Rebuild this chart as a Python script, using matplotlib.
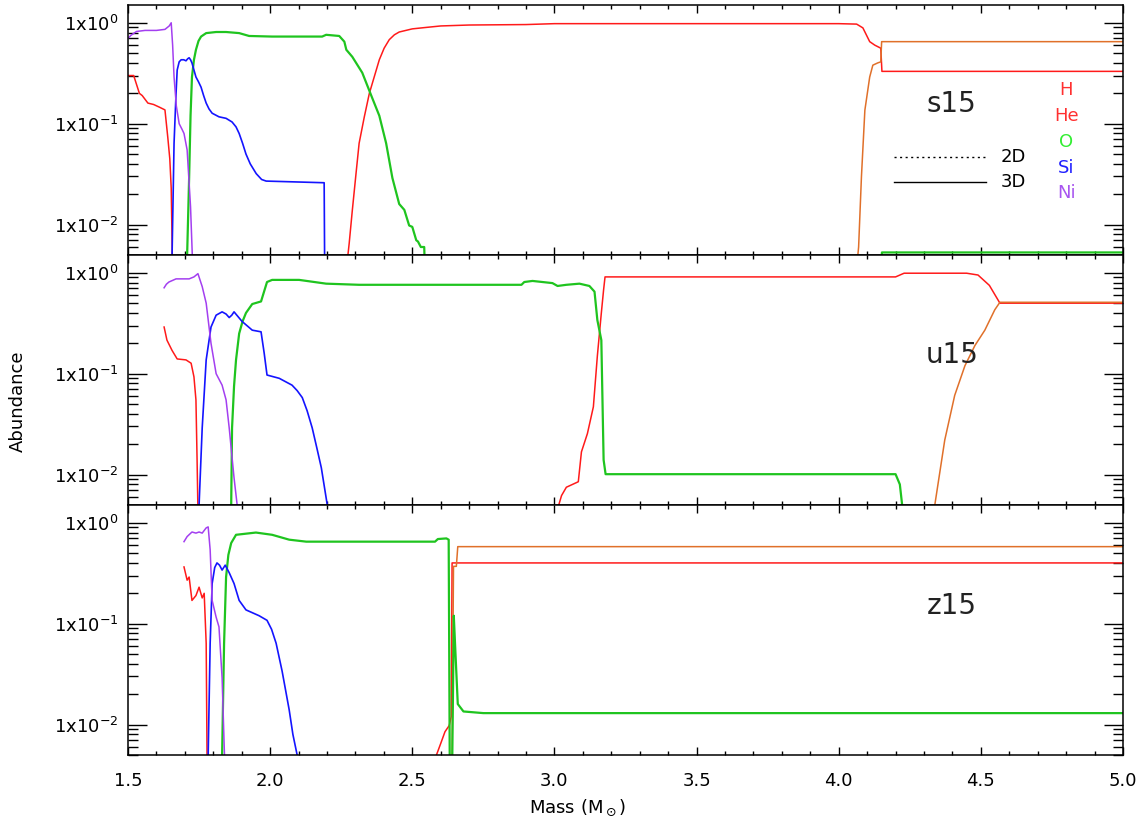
import matplotlib
matplotlib.use("Agg")
import matplotlib.pyplot as plt
from matplotlib.ticker import LogLocator, MultipleLocator, FuncFormatter, NullFormatter
import numpy as np

# ---------------- data ----------------
# Panel s15
s15_H_x = [1.5, 1.52, 1.54, 1.55, 1.57, 1.59, 1.61, 1.63, 1.64, 1.647, 1.652, 1.655, 1.657,
           2.265, 2.278, 2.289, 2.303, 2.313, 2.331, 2.349, 2.366, 2.384, 2.401, 2.419, 2.437,
           2.454, 2.5, 2.55, 2.6, 2.7, 2.9, 3.0,
           4.0, 4.063, 4.085, 4.109, 4.127, 4.148, 4.152, 5.0]
s15_H_y = [0.30, 0.30, 0.20, 0.19, 0.16, 0.155, 0.146, 0.137, 0.073, 0.045, 0.023, 0.007, 0.003,
           0.003, 0.0065, 0.0138, 0.034, 0.064, 0.116, 0.20, 0.29, 0.43, 0.56, 0.68, 0.76,
           0.81, 0.87, 0.90, 0.93, 0.95, 0.96, 0.98,
           0.98, 0.97, 0.89, 0.65, 0.60, 0.56, 0.33, 0.33]
s15_He_x = [4.06, 4.07, 4.08, 4.092, 4.109, 4.12, 4.137, 4.148, 4.151, 5.0]
s15_He_y = [0.003, 0.006, 0.03, 0.136, 0.29, 0.38, 0.40, 0.41, 0.65, 0.65]
s15_O_x = [1.705, 1.708, 1.715, 1.720, 1.725, 1.732, 1.739, 1.748, 1.757, 1.775, 1.81, 1.845,
           1.891, 1.926, 2.007, 2.183, 2.197, 2.243, 2.261, 2.268, 2.289, 2.324, 2.359, 2.384,
           2.408, 2.43, 2.454, 2.472, 2.489, 2.50, 2.514, 2.52, 2.53, 2.542, 2.545,
           4.148, 4.152, 5.0]
s15_O_y = [0.003, 0.005, 0.029, 0.12, 0.29, 0.43, 0.54, 0.66, 0.73, 0.79, 0.81, 0.81,
           0.79, 0.74, 0.73, 0.73, 0.76, 0.74, 0.65, 0.54, 0.46, 0.32, 0.18, 0.12,
           0.064, 0.029, 0.016, 0.014, 0.0098, 0.0095, 0.007, 0.0068, 0.006, 0.006, 0.003,
           0.003, 0.0053, 0.0053]
s15_Si_x = [1.654, 1.655, 1.662, 1.669, 1.673, 1.680, 1.687, 1.696, 1.704, 1.710, 1.715, 1.720,
            1.725, 1.732, 1.739, 1.748, 1.757, 1.766, 1.775, 1.785, 1.796, 1.82, 1.845, 1.866,
            1.880, 1.891, 1.903, 1.915, 1.930, 1.951, 1.970, 1.986, 2.067, 2.19, 2.192]
s15_Si_y = [0.003, 0.005, 0.064, 0.20, 0.34, 0.41, 0.43, 0.43, 0.42, 0.44, 0.45, 0.43,
            0.40, 0.34, 0.29, 0.26, 0.23, 0.19, 0.16, 0.14, 0.127, 0.117, 0.113, 0.104,
            0.093, 0.080, 0.064, 0.050, 0.040, 0.032, 0.028, 0.027, 0.0266, 0.026, 0.003]
s15_Ni_x = [1.5, 1.51, 1.53, 1.56, 1.6, 1.63, 1.645, 1.652, 1.657, 1.662, 1.670, 1.68, 1.690,
            1.697, 1.708, 1.72, 1.729]
s15_Ni_y = [0.70, 0.75, 0.82, 0.84, 0.84, 0.86, 0.93, 1.0, 0.60, 0.29, 0.15, 0.10, 0.088,
            0.08, 0.055, 0.015, 0.003]

# Panel u15
u15_H_x = [1.627, 1.637, 1.655, 1.673, 1.704, 1.722, 1.732, 1.739, 1.743, 1.747,
           3.005, 3.025, 3.042, 3.084, 3.095, 3.116, 3.137, 3.151, 3.165, 3.173, 3.178,
           4.20, 4.23, 4.45, 4.49, 4.53, 4.567, 5.0]
u15_H_y = [0.29, 0.215, 0.17, 0.14, 0.137, 0.127, 0.093, 0.055, 0.014, 0.003,
           0.004, 0.0062, 0.0075, 0.0085, 0.0168, 0.0255, 0.047, 0.15, 0.40, 0.68, 0.91,
           0.91, 0.99, 0.99, 0.95, 0.75, 0.50, 0.50]
u15_He_x = [4.33, 4.338, 4.373, 4.408, 4.444, 4.479, 4.514, 4.549, 4.567, 5.0]
u15_He_y = [0.003, 0.005, 0.022, 0.061, 0.12, 0.19, 0.27, 0.43, 0.51, 0.51]
u15_O_x = [1.862, 1.863, 1.866, 1.873, 1.88, 1.891, 1.903, 1.915, 1.937, 1.968, 1.989, 2.007,
           2.102, 2.197, 2.313, 2.884, 2.894, 2.923, 2.993, 3.011, 3.042, 3.088, 3.123,
           3.141, 3.151, 3.165, 3.173, 3.18, 4.20, 4.215, 4.232]
u15_O_y = [0.003, 0.005, 0.029, 0.075, 0.137, 0.25, 0.33, 0.40, 0.49, 0.52, 0.81, 0.85,
           0.85, 0.78, 0.76, 0.76, 0.81, 0.83, 0.79, 0.74, 0.76, 0.78, 0.74,
           0.65, 0.34, 0.215, 0.014, 0.0101, 0.0101, 0.008, 0.003]
u15_Si_x = [1.749, 1.75, 1.761, 1.775, 1.792, 1.81, 1.831, 1.845, 1.856, 1.865, 1.873, 1.901,
            1.937, 1.968, 1.979, 1.989, 2.032, 2.077, 2.095, 2.113, 2.130, 2.148, 2.165, 2.18,
            2.201, 2.205]
u15_Si_y = [0.003, 0.005, 0.029, 0.137, 0.29, 0.38, 0.41, 0.39, 0.36, 0.38, 0.41, 0.33,
            0.27, 0.26, 0.16, 0.097, 0.09, 0.077, 0.068, 0.058, 0.043, 0.029, 0.018, 0.0117,
            0.005, 0.003]
u15_Ni_x = [1.627, 1.635, 1.644, 1.669, 1.715, 1.732, 1.746, 1.761, 1.775, 1.792, 1.81, 1.831,
            1.845, 1.856, 1.873, 1.884, 1.888]
u15_Ni_y = [0.71, 0.77, 0.81, 0.87, 0.87, 0.91, 0.98, 0.73, 0.50, 0.20, 0.10, 0.077, 0.055,
            0.029, 0.0093, 0.005, 0.003]

# Panel z15
z15_H_x = [1.697, 1.708, 1.715, 1.725, 1.739, 1.75, 1.761, 1.768, 1.775, 1.778, 1.780,
           2.583, 2.585, 2.60, 2.615, 2.63, 2.637, 2.64, 5.0]
z15_H_y = [0.365, 0.27, 0.29, 0.17, 0.19, 0.23, 0.18, 0.20, 0.064, 0.005, 0.003,
           0.003, 0.005, 0.0065, 0.0085, 0.0098, 0.012, 0.40, 0.40]
z15_He_x = [2.638, 2.640, 2.645, 2.655, 2.66, 5.0]
z15_He_y = [0.003, 0.005, 0.37, 0.37, 0.58, 0.58]
z15_O_x = [1.829, 1.831, 1.838, 1.845, 1.853, 1.863, 1.880, 1.950, 2.007, 2.067, 2.127, 2.243,
           2.58, 2.59, 2.62, 2.628, 2.632, 2.640, 2.646, 2.652, 2.66, 2.68, 2.75, 5.0]
z15_O_y = [0.003, 0.005, 0.064, 0.29, 0.48, 0.63, 0.76, 0.80, 0.76, 0.68, 0.65, 0.65,
           0.65, 0.69, 0.70, 0.68, 0.003, 0.003, 0.12, 0.05, 0.016, 0.0135, 0.013, 0.013]
z15_Si_x = [1.781, 1.782, 1.789, 1.796, 1.805, 1.813, 1.822, 1.831, 1.842, 1.856, 1.873, 1.891,
            1.915, 1.961, 1.989, 2.005, 2.021, 2.042, 2.067, 2.080, 2.095, 2.10]
z15_Si_y = [0.003, 0.005, 0.064, 0.25, 0.36, 0.40, 0.38, 0.34, 0.38, 0.32, 0.25, 0.17,
            0.137, 0.12, 0.108, 0.088, 0.064, 0.034, 0.014, 0.008, 0.005, 0.003]
z15_Ni_x = [1.697, 1.708, 1.725, 1.739, 1.75, 1.761, 1.775, 1.782, 1.789, 1.796, 1.81, 1.82,
            1.831, 1.838, 1.842]
z15_Ni_y = [0.65, 0.73, 0.81, 0.79, 0.81, 0.79, 0.89, 0.91, 0.54, 0.17, 0.116, 0.093,
            0.029, 0.0066, 0.003]

panel_names = ["s15", "u15", "z15"]
elements = ["H", "He", "O", "Si", "Ni"]
legend_styles = ["2D", "3D"]

panels = [
    {"H": (s15_H_x, s15_H_y), "He": (s15_He_x, s15_He_y), "O": (s15_O_x, s15_O_y),
     "Si": (s15_Si_x, s15_Si_y), "Ni": (s15_Ni_x, s15_Ni_y)},
    {"H": (u15_H_x, u15_H_y), "He": (u15_He_x, u15_He_y), "O": (u15_O_x, u15_O_y),
     "Si": (u15_Si_x, u15_Si_y), "Ni": (u15_Ni_x, u15_Ni_y)},
    {"H": (z15_H_x, z15_H_y), "He": (z15_He_x, z15_He_y), "O": (z15_O_x, z15_O_y),
     "Si": (z15_Si_x, z15_Si_y), "Ni": (z15_Ni_x, z15_Ni_y)},
]

line_colors = {"H": "#ff1a1a", "He": "#e0702a", "O": "#1fc41f", "Si": "#1414ff", "Ni": "#a33ff0"}
line_widths = {"H": 1.1, "He": 1.1, "O": 1.6, "Si": 1.2, "Ni": 1.1}
label_colors = {"H": "#ff3030", "He": "#ff3030", "O": "#33ee33", "Si": "#2020ff", "Ni": "#a855f0"}

# ---------------- figure ----------------
plt.rcParams['font.family'] = ['DejaVu Sans']
W, H = 1141, 822
fig = plt.figure(figsize=(W / 100, H / 100), dpi=100)

left_px, right_px = 128, 1123
tops = [5, 255, 505]
ph = 250

def fmt(v, pos):
    e = int(round(np.log10(v)))
    return "1x10$^{%d}$" % e

axes = []
for i in range(3):
    ax = fig.add_axes([left_px / W, 1 - (tops[i] + ph) / H, (right_px - left_px) / W, ph / H])
    axes.append(ax)
    for el in elements:
        x, y = panels[i][el]
        ax.plot(x, y, color=line_colors[el], lw=line_widths[el], solid_joinstyle='round')
    ax.set_yscale('log')
    ax.set_xlim(1.5, 5.0)
    ax.set_ylim(5e-3, 1.5)
    ax.yaxis.set_major_locator(LogLocator(base=10, numticks=10))
    ax.yaxis.set_minor_locator(LogLocator(base=10, subs=np.arange(2, 10), numticks=10))
    ax.yaxis.set_major_formatter(FuncFormatter(fmt))
    ax.yaxis.set_minor_formatter(NullFormatter())
    ax.xaxis.set_major_locator(MultipleLocator(0.5))
    ax.xaxis.set_minor_locator(MultipleLocator(0.1))
    ax.tick_params(axis='both', which='both', direction='in', top=True, right=True,
                   colors='black', labelsize=13)
    ax.tick_params(axis='y', which='major', length=14, width=1.0, pad=7)
    ax.tick_params(axis='y', which='minor', length=7, width=1.0)
    ax.tick_params(axis='x', which='major', length=6, width=1.0, pad=12)
    ax.tick_params(axis='x', which='minor', length=3, width=1.0)
    for sp in ax.spines.values():
        sp.set_linewidth(1.1)
    if i < 2:
        ax.set_xticklabels([])
    else:
        ax.xaxis.set_major_formatter(FuncFormatter(lambda v, p: "%.1f" % v))
    ax.text(0.828, 0.605 - 0.005 * i, panel_names[i], transform=ax.transAxes,
            fontsize=20, ha='center', va='center', color='#222222')

# legend on first panel
ax0 = axes[0]
ax0.plot([0.770, 0.862], [0.392, 0.392], transform=ax0.transAxes, color='black',
         lw=1.0, ls=(0, (1.5, 2.5)))
ax0.plot([0.770, 0.862], [0.292, 0.292], transform=ax0.transAxes, color='black', lw=1.0)
ax0.text(0.877, 0.392, legend_styles[0], transform=ax0.transAxes, fontsize=13, va='center', ha='left')
ax0.text(0.877, 0.292, legend_styles[1], transform=ax0.transAxes, fontsize=13, va='center', ha='left')
el_y = [0.66, 0.556, 0.452, 0.348, 0.248]
for el, yy in zip(elements, el_y):
    ax0.text(0.943, yy, el, transform=ax0.transAxes, fontsize=13, ha='center', va='center',
             color=label_colors[el])

fig.text(18 / W, 1 - 401 / H, "Abundance", rotation=90, fontsize=13, ha='center', va='center')
fig.text(578 / W, 1 - 808 / H, r"Mass (M$_\odot$)", fontsize=13, ha='center', va='center')

fig.savefig("out.png", dpi=100)
